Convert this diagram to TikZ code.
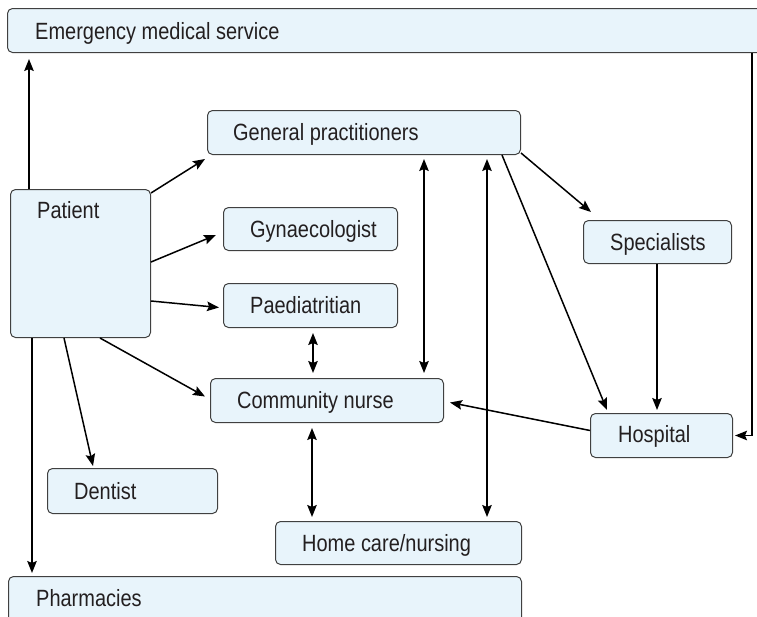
\documentclass[tikz,border=0pt]{standalone}
\usepackage{fontspec}
\setmainfont[FakeStretch=0.85]{Liberation Sans}
\usetikzlibrary{calc,arrows.meta}
\definecolor{boxfill}{HTML}{E8F4FB}
\definecolor{boxline}{HTML}{404040}
\definecolor{txt}{HTML}{231F20}
\tikzset{
  box/.style 2 args={draw=boxline, line width=1pt, fill=boxfill, rounded corners=5pt,
    minimum width=#1, minimum height=#2, anchor=north west, inner sep=0pt},
  lbl/.style={anchor=base west, inner sep=0pt, text=txt, font=\fontsize{23.5}{27}\selectfont},
  con/.style={line width=1.5pt, black},
  arr/.style={con, -{Stealth[length=12pt,width=9.5pt,inset=2pt]}},
  darr/.style={con, {Stealth[length=12pt,width=9.5pt,inset=2pt]}-{Stealth[length=12pt,width=9.5pt,inset=2pt]}}
}
\begin{document}
\begin{tikzpicture}[x=1pt,y=-1pt]
\useasboundingbox (0,0) rectangle (757,616);
% boxes
\node[box={770pt}{44pt}] (ems) at (7,8) {};
\node[box={140pt}{148pt}] (patient) at (10,189) {};
\node[box={313pt}{44pt}] (gp) at (207,110) {};
\node[box={174pt}{43pt}] (gyn) at (223,207) {};
\node[box={174pt}{44pt}] (paed) at (223,283) {};
\node[box={148pt}{43pt}] (spec) at (583,220) {};
\node[box={233pt}{44pt}] (cn) at (210,378) {};
\node[box={142pt}{44pt}] (hosp) at (590,413) {};
\node[box={170pt}{45pt}] (dent) at (47,468) {};
\node[box={246pt}{43pt}] (home) at (275,521) {};
\node[box={513pt}{60pt}] (pharm) at (8,576) {};
% labels
\node[lbl] (emsT) at ($(ems.north west)+(28,31)$) {Emergency medical service};
\node[lbl] (patientT) at ($(patient.north west)+(27,29)$) {Patient};
\node[lbl] (gpT) at ($(gp.north west)+(26,30)$) {General practitioners};
\node[lbl] (gynT) at ($(gyn.north west)+(27,30)$) {Gynaecologist};
\node[lbl] (paedT) at ($(paed.north west)+(27,30)$) {Paediatritian};
\node[lbl] (specT) at ($(spec.north west)+(27,30)$) {Specialists};
\node[lbl] (cnT) at ($(cn.north west)+(27,30)$) {Community nurse};
\node[lbl] (hospT) at ($(hosp.north west)+(28,29)$) {Hospital};
\node[lbl] (dentT) at ($(dent.north west)+(27,31)$) {Dentist};
\node[lbl] (homeT) at ($(home.north west)+(27,30)$) {Home care/nursing};
\node[lbl] (pharmT) at ($(pharm.north west)+(28,30)$) {Pharmacies};
% connector coordinates
\coordinate (pe) at ($(patient.north west)+(19,0)$);
\coordinate (pph) at ($(patient.south west)+(22,0)$);
\coordinate (pd) at ($(patient.south west)+(54,0)$);
\coordinate (pc) at ($(patient.south west)+(90,0)$);
\coordinate (xgc) at (424,0);
\coordinate (xgh) at (487,0);
\coordinate (xpc) at (313,0);
\coordinate (xch) at (312,0);
\coordinate (xsh) at (657,0);
\coordinate (xeh) at (752,0);
% connectors
\draw[arr, shorten >=6pt] (pe) -- (pe |- ems.south);
\draw[arr] ($(patient.north east)+(0,4)$) -- ($(gp.south west)+(-2,4)$);
\draw[arr] ($(patient.north east)+(0,73)$) -- ($(gyn.west)+(-7,6)$);
\draw[arr] ($(patient.north east)+(0,112)$) -- ($(paed.west)+(-4,2)$);
\draw[arr] (pc) -- ($(cn.west)+(-5,-4)$);
\draw[arr] (pd) -- ($(dent.north west)+(46,-2)$);
\draw[arr, shorten >=3pt] (pph) -- (pph |- pharm.north);
\draw[darr, shorten >=5pt, shorten <=4pt] (xgc |- gp.south) -- (xgc |- cn.north);
\draw[darr, shorten >=4pt, shorten <=4pt] (xgh |- gp.south) -- (xgh |- home.north);
\draw[arr] ($(gp.south east)+(0,-2)$) -- ($(spec.north west)+(8,-8)$);
\draw[arr] ($(gp.south east)+(-19,0)$) -- ($(hosp.north west)+(17,-3)$);
\draw[arr, shorten >=3pt] (xsh |- spec.south) -- (xsh |- hosp.north);
\draw[arr] ($(hosp.west)+(0,-5)$) -- ($(cn.east)+(6,2)$);
\draw[darr, shorten >=5pt, shorten <=5pt] (xpc |- paed.south) -- (xpc |- cn.north);
\draw[darr, shorten >=4pt, shorten <=5pt] (xch |- cn.south) -- (xch |- home.north);
\draw[arr, shorten >=2pt] (xeh |- ems.south) |- (hosp.east);
\end{tikzpicture}
\end{document}
